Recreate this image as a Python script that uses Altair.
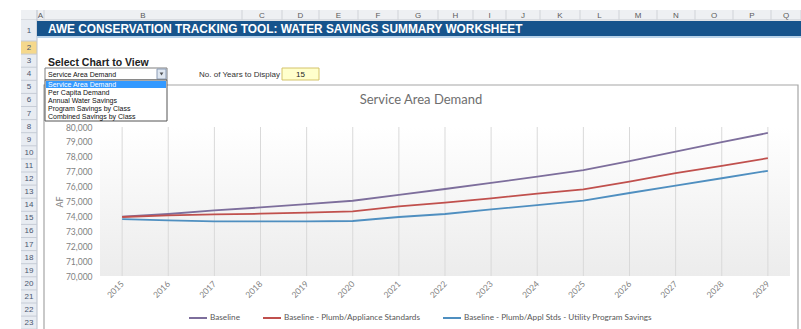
import altair as alt
import pandas as pd

# ---------------- data ----------------
YEARS = list(range(2015, 2030))
SERIES = [
    "Baseline",
    "Baseline - Plumb/Appliance Standards",
    "Baseline - Plumb/Appl Stds - Utility Program Savings",
]
BASELINE = [73980, 74160, 74400, 74600, 74820, 75050, 75450, 75840, 76250, 76670, 77100, 77710, 78340, 78990, 79600]
PLUMB = [73960, 74070, 74130, 74180, 74250, 74340, 74670, 74920, 75210, 75530, 75820, 76340, 76900, 77390, 77910]
UTILITY = [73820, 73730, 73660, 73660, 73660, 73690, 73960, 74160, 74470, 74760, 75060, 75570, 76070, 76560, 77060]
Y_TICKS = list(range(70000, 80001, 1000))

SHEET_TITLE = "AWE CONSERVATION TRACKING TOOL: WATER SAVINGS SUMMARY WORKSHEET"
CHART_TITLE = "Service Area Demand"
SELECT_LABEL = "Select Chart to View"
CHART_OPTIONS = ["Service Area Demand", "Per Capita Demand", "Annual Water Savings",
                 "Program Savings by Class", "Combined Savings by Class"]
YEARS_LABEL = "No. of Years to Display"
YEARS_TO_DISPLAY = "15"
COL_LETTERS = list("ABCDEFGHIJKLMNOPQ")
ROW_NUMBERS = list(range(1, 24))

COLORS = ["#7d6e9c", "#c0504d", "#4f8fc0"]

# ---------------- layout ----------------
OX, OY, W, H = 100, 127, 690, 149
TOTAL_W, TOTAL_H = 801, 329
CHART_FONT = "Lato"
SHEET_FONT = "Liberation Sans"
COL_EDGES = [37, 44, 242, 282, 319, 358, 398, 438, 473, 506, 540, 580, 619, 657, 695, 733, 771, 801]

ONE = alt.Data(values=[{"k": 0}])


def box(x0, y0, x1, y1, fill, stroke=None, sw=1.0):
    kw = {"fill": fill}
    if stroke:
        kw.update(stroke=stroke, strokeWidth=sw)
    else:
        kw.update(strokeWidth=0)
    return alt.Chart(ONE).mark_rect(**kw).encode(
        x=alt.value(x0 - OX), x2=alt.value(x1 - OX),
        y=alt.value(y0 - OY), y2=alt.value(y1 - OY))


def hline(x0, x1, y, color, sw=1.0):
    return alt.Chart(ONE).mark_rule(color=color, strokeWidth=sw).encode(
        x=alt.value(x0 - OX), x2=alt.value(x1 - OX), y=alt.value(y - OY))


def vline(x, y0, y1, color, sw=1.0):
    return alt.Chart(ONE).mark_rule(color=color, strokeWidth=sw).encode(
        x=alt.value(x - OX), y=alt.value(y0 - OY), y2=alt.value(y1 - OY))


def label(x, y, s, size=8, color="#333333", weight="normal", align="left", font=SHEET_FONT):
    return alt.Chart(ONE).mark_text(
        text=s, fontSize=size, color=color, fontWeight=weight, align=align,
        baseline="middle", font=font).encode(x=alt.value(x - OX), y=alt.value(y - OY))


layers = []

# spreadsheet chrome: column header strip
layers.append(box(21, 10, TOTAL_W, 20, "#eef0f3"))
layers.append(hline(21, TOTAL_W, 20, "#c4c8ce"))
for i, letter in enumerate(COL_LETTERS):
    x0, x1 = COL_EDGES[i], COL_EDGES[i + 1]
    layers.append(vline(x1, 10, 20, "#d0d3d8"))
    layers.append(label((x0 + x1) / 2, 15.5, letter, size=8, color="#5a5a5a", align="center"))


def row_top(r):
    return 20 if r == 1 else 41 + (r - 2) * 13.1


# row header column
layers.append(box(21, 20, 37, TOTAL_H, "#e8ecf2"))
layers.append(box(21, row_top(2), 37, row_top(3), "#f5d88c"))
layers.append(vline(37, 10, TOTAL_H, "#b9c0cc"))
for r in ROW_NUMBERS:
    top, bot = row_top(r), row_top(r + 1)
    layers.append(hline(21, 37, bot, "#c6ccd6"))
    layers.append(label(29, (top + bot) / 2 + 0.5, str(r), size=8, color="#4a5670", align="center"))

# banner
layers.append(box(37, 21, TOTAL_W, 36, "#17548c"))
layers.append(box(37, 36, TOTAL_W, 38, "#b9d3ea"))
layers.append(label(48, 29, SHEET_TITLE, size=11.85, color="#ffffff", weight="bold"))

# selectors
layers.append(label(48, 63, SELECT_LABEL, size=10.5, color="#222222", weight="bold"))
layers.append(label(280, 74.5, YEARS_LABEL, size=8, color="#333333", align="right"))
layers.append(box(282, 68, 319, 80, "#ffffcc", stroke="#d4c36a"))
layers.append(label(300.5, 74.5, YEARS_TO_DISPLAY, size=8, color="#222222", align="center"))

# chart box
layers.append(box(44, 85, 798, TOTAL_H + 10, "#ffffff", stroke="#a6a6a6", sw=1.2))

# dropdown
layers.append(box(45, 68, 167, 80, "#ffffff", stroke="#7f7f7f"))
layers.append(label(48, 74.5, CHART_OPTIONS[0], size=7, color="#111111"))
layers.append(box(157, 69, 166, 79, "#dfe7f1", stroke="#8a9bb5"))
layers.append(alt.Chart(ONE).mark_point(shape="triangle-down", filled=True, size=14, color="#111111")
              .encode(x=alt.value(161.5 - OX), y=alt.value(74 - OY)))
layers.append(box(45, 80, 167, 121, "#ffffff", stroke="#555555"))
layers.append(box(46, 81, 166, 88, "#3399ff"))
for i, opt in enumerate(CHART_OPTIONS):
    layers.append(label(48, 84.5 + 8 * i, opt, size=7,
                        color="#ffffff" if i == 0 else "#111111"))

# chart title
layers.append(label(421, 100, CHART_TITLE, size=13, color="#6e6e6e", align="center", font=CHART_FONT))

# plot background gradient
layers.append(alt.Chart(ONE).mark_rect(
    fill=alt.Gradient(gradient="linear",
                      stops=[alt.GradientStop(color="#ffffff", offset=0),
                             alt.GradientStop(color="#ececec", offset=1)],
                      x1=0, x2=0, y1=0, y2=1),
    strokeWidth=0).encode(x=alt.value(0), x2=alt.value(W), y=alt.value(0), y2=alt.value(H)))

# data
df = pd.DataFrame({
    "Year": YEARS * 3,
    "Series": [SERIES[0]] * 15 + [SERIES[1]] * 15 + [SERIES[2]] * 15,
    "Value": BASELINE + PLUMB + UTILITY,
})
years_df = pd.DataFrame({"Year": YEARS})

xenc = alt.X("Year:O", title=None,
             scale=alt.Scale(type="point", padding=0.48),
             axis=alt.Axis(labelAngle=-45, labelFontSize=8.5, labelColor="#7f7f7f",
                           labelFont=CHART_FONT, labelPadding=3, labelOffset=-3, ticks=False,
                           domain=False, grid=False, zindex=2))

layers.append(alt.Chart(years_df).mark_rule(color="#d9d9d9", strokeWidth=1).encode(
    x=xenc, y=alt.value(0), y2=alt.value(H)))

layers.append(alt.Chart(df).mark_line(strokeWidth=1.8).encode(
    x=xenc,
    y=alt.Y("Value:Q", title="AF",
            scale=alt.Scale(domain=[70000, 80000], nice=False, zero=False),
            axis=alt.Axis(values=Y_TICKS, format=",.0f", labelFontSize=8.5, labelColor="#7f7f7f",
                          labelFont=CHART_FONT, labelPadding=8, ticks=False, domain=False,
                          grid=False, titleFont=CHART_FONT, titleFontSize=9,
                          titleFontWeight="normal", titleColor="#7f7f7f", titlePadding=1,
                          zindex=2)),
    color=alt.Color("Series:N",
                    scale=alt.Scale(domain=SERIES, range=COLORS),
                    legend=alt.Legend(title=None, orient="none", legendX=88, legendY=181,
                                      direction="horizontal", symbolType="stroke",
                                      symbolSize=324, symbolStrokeWidth=2,
                                      labelFontSize=8.2, labelColor="#595959",
                                      labelFont=CHART_FONT, columnPadding=19,
                                      labelOffset=2, labelLimit=0)),
    order=alt.Order("Year:O"),
))

chart = alt.layer(*layers).properties(
    width=W, height=H,
    padding={"left": OX, "top": OY, "right": TOTAL_W - OX - W, "bottom": TOTAL_H - OY - H},
    autosize="none",
    background="white",
).configure_view(stroke=None)

chart.save("out.html", embed_options={"renderer": "svg", "actions": False})
